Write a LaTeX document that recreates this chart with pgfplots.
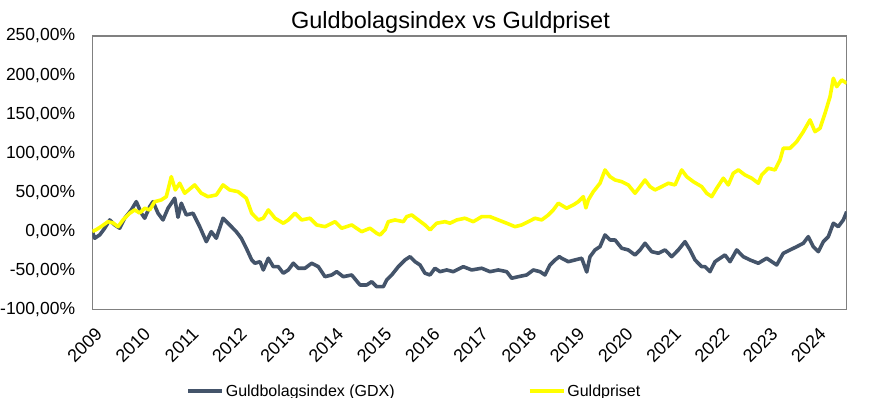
\documentclass[border=0pt]{standalone}
\usepackage{fontspec}
\setmainfont{Liberation Sans}
\usepackage{pgfplots}
\usepackage{pgfplotstable}
\pgfplotsset{compat=1.18}
\definecolor{gdx}{HTML}{44546A}
\definecolor{gold}{HTML}{FFFF00}
\definecolor{framegray}{HTML}{808080}

\pgfplotstableread{
x y
2009.000 0
2009.050 -8.8
2009.153 -4.6
2009.257 4.0
2009.361 14.6
2009.464 8.2
2009.568 4.0
2009.672 16.8
2009.808 27.4
2009.912 38.0
2010.016 23.2
2010.086 16.8
2010.190 31.6
2010.258 38.0
2010.362 23.2
2010.465 14.6
2010.569 29.6
2010.708 42.4
2010.776 18.0
2010.845 36.0
2010.948 21.0
2011.087 23.2
2011.226 6.0
2011.363 -13.2
2011.466 -0.4
2011.570 -8.8
2011.709 16.8
2011.848 8.2
2011.984 -0.4
2012.088 -8.8
2012.192 -21.6
2012.304 -36.6
2012.372 -40.8
2012.476 -38.8
2012.544 -49.4
2012.648 -34.4
2012.751 -45.2
2012.855 -45.2
2012.959 -53.6
2013.062 -49.4
2013.166 -40.8
2013.269 -47.2
2013.408 -47.2
2013.547 -40.8
2013.684 -45.2
2013.823 -58.0
2013.962 -55.8
2014.065 -51.6
2014.202 -58.0
2014.376 -55.8
2014.548 -68.6
2014.687 -68.6
2014.791 -64.4
2014.894 -70.8
2015.031 -70.8
2015.102 -62.2
2015.205 -55.8
2015.342 -45.2
2015.481 -36.6
2015.585 -32.4
2015.688 -38.8
2015.792 -43.0
2015.895 -53.6
2015.999 -55.8
2016.102 -47.2
2016.206 -51.6
2016.345 -49.4
2016.482 -51.6
2016.689 -45.2
2016.863 -49.4
2017.070 -47.2
2017.242 -51.6
2017.415 -49.4
2017.588 -51.6
2017.692 -60.0
2017.829 -58.0
2018.003 -55.8
2018.140 -49.4
2018.279 -51.6
2018.382 -55.8
2018.486 -43.0
2018.590 -36.6
2018.679 -32.4
2018.728 -34.4
2018.865 -38.8
2019.004 -36.6
2019.143 -34.4
2019.247 -52.0
2019.315 -32.4
2019.419 -23.8
2019.522 -19.6
2019.626 -4.6
2019.730 -11.0
2019.833 -11.0
2019.972 -21.6
2020.109 -23.8
2020.248 -30.2
2020.352 -23.8
2020.455 -15.2
2020.594 -26.0
2020.731 -28.0
2020.870 -23.8
2021.008 -32.4
2021.145 -23.8
2021.284 -13.2
2021.388 -23.8
2021.491 -36.6
2021.630 -45.2
2021.699 -45.2
2021.802 -51.6
2021.906 -38.8
2022.010 -34.4
2022.113 -30.2
2022.217 -38.8
2022.355 -23.8
2022.492 -32.4
2022.631 -36.6
2022.803 -40.8
2022.977 -34.4
2023.184 -43.0
2023.321 -28.0
2023.460 -23.8
2023.599 -19.6
2023.736 -15.2
2023.839 -6.8
2023.943 -19.6
2024.047 -26.0
2024.150 -13.2
2024.254 -6.8
2024.358 10.4
2024.461 6.0
2024.565 14.6
2024.635 25.2
}\gdxdata

\pgfplotstableread{
x y
2009.000 0
2009.077 2
2009.180 6.0
2009.325 12.4
2009.429 10.8
2009.534 6.0
2009.636 14.6
2009.775 23.2
2009.879 27.4
2009.982 23.5
2010.086 29.6
2010.190 27.4
2010.293 38.0
2010.430 40.2
2010.534 44.4
2010.637 70.0
2010.720 53.0
2010.811 61.6
2010.915 48.8
2011.122 59.4
2011.259 48.8
2011.398 44.4
2011.570 46.6
2011.709 59.4
2011.848 53.0
2012.020 50.8
2012.192 42.4
2012.304 23.2
2012.440 14.6
2012.544 16.8
2012.648 27.4
2012.787 16.8
2012.959 10.4
2013.062 14.6
2013.201 23.2
2013.340 14.6
2013.512 16.8
2013.651 8.2
2013.823 6.0
2014.030 12.4
2014.169 4.0
2014.376 8.2
2014.583 -0.4
2014.755 4.0
2014.894 -2.4
2014.963 -4.6
2015.066 1.8
2015.135 12.4
2015.274 14.6
2015.446 12.4
2015.516 18.8
2015.620 21.0
2015.756 14.6
2015.895 8.2
2015.999 1.8
2016.138 10.4
2016.310 12.4
2016.413 10.4
2016.552 14.6
2016.724 16.8
2016.896 12.4
2017.070 18.8
2017.242 18.8
2017.415 14.6
2017.588 10.4
2017.761 6.0
2017.899 8.2
2018.036 12.4
2018.175 16.8
2018.314 14.6
2018.451 21.0
2018.554 27.4
2018.658 36.0
2018.832 29.6
2018.969 33.8
2019.073 38.0
2019.176 44.4
2019.230 30.0
2019.280 40.2
2019.383 50.8
2019.522 61.6
2019.626 78.6
2019.730 70.0
2019.833 65.8
2019.972 63.6
2020.109 59.4
2020.248 48.8
2020.352 57.2
2020.455 65.8
2020.559 57.2
2020.663 53.0
2020.801 57.2
2020.938 61.6
2021.077 59.4
2021.215 78.6
2021.319 70.0
2021.456 63.6
2021.630 57.2
2021.734 48.8
2021.837 44.4
2021.941 55.2
2022.078 68.0
2022.181 59.4
2022.285 74.4
2022.389 78.6
2022.527 72.2
2022.666 68.0
2022.803 61.6
2022.873 72.2
2023.010 80.8
2023.149 78.6
2023.253 91.4
2023.321 106.4
2023.460 106.4
2023.599 114.8
2023.736 127.6
2023.875 142.6
2023.978 127.6
2024.082 131.9
2024.186 151.1
2024.290 172.4
2024.358 195.9
2024.428 185.2
2024.531 193.8
2024.635 189.5
}\golddata

\begin{document}
\begin{tikzpicture}
\useasboundingbox (-92.3pt,-88.5pt) rectangle (801.7pt,309.5pt);
\begin{axis}[
  at={(0pt,0pt)}, anchor=south west,
  scale only axis, width=754.4pt, height=273.5pt,
  xmin=2009, xmax=2024.635, ymin=-100, ymax=250,
  axis line style={draw=framegray, line width=1.3pt},
  major tick length=0pt,
  xtick={2009,2010,2011,2012,2013,2014,2015,2016,2017,2018,2019,2020,2021,2022,2023,2024},
  xticklabels={2009,2010,2011,2012,2013,2014,2015,2016,2017,2018,2019,2020,2021,2022,2023,2024},
  ytick={-100,-50,0,50,100,150,200,250},
  yticklabels={{-100,00\%},{-50,00\%},{0,00\%},{50,00\%},{100,00\%},{150,00\%},{200,00\%},{250,00\%}},
  tick label style={text=black},
  yticklabel style={font=\fontsize{17.5}{21}\selectfont, anchor=east, inner sep=0pt, xshift=-17pt},
  xticklabel style={font=\fontsize{18}{22}\selectfont, xshift=2pt, yshift=-17pt, rotate=45, anchor=north east, inner sep=0pt},
  legend columns=2,
  legend style={at={(axis description cs:0.1242,-0.2983)}, anchor=west, draw=none, fill=none,
    inner sep=0pt, font=\fontsize{16}{19}\selectfont,
    /tikz/every even column/.append style={column sep=131pt}},
  legend cell align=left,
  legend image code/.code={\draw[#1] (0pt,0pt) -- (34pt,0pt);},
]
\addplot[gdx, line width=3.6pt, line join=round] table[x=x,y=y] {\gdxdata};
\addlegendentry{Guldbolagsindex (GDX)}
\addplot[gold, line width=3.6pt, line join=round] table[x=x,y=y] {\golddata};
\addlegendentry{Guldpriset}
\end{axis}
\node[anchor=base, font=\fontsize{23.5}{28}\selectfont] at (358.2pt,281.2pt) {Guldbolagsindex vs Guldpriset};
\end{tikzpicture}
\end{document}
